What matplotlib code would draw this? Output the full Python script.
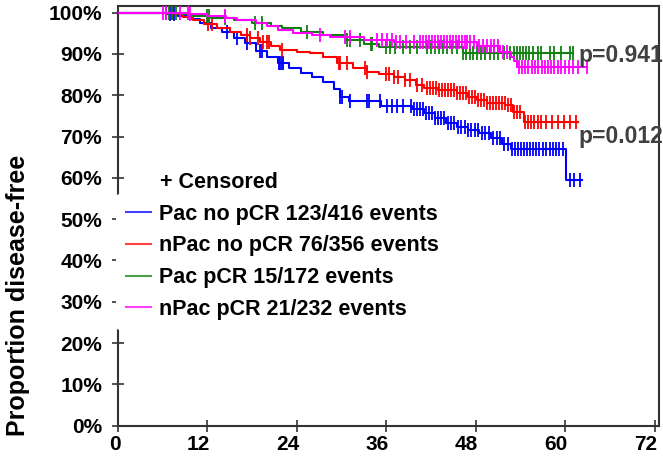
import numpy as np
import matplotlib
matplotlib.use("Agg")
import matplotlib.pyplot as plt
from matplotlib.lines import Line2D
import matplotlib.transforms as mtransforms

plt.rcParams['font.family'] = ['Liberation Sans', 'DejaVu Sans']
plt.rcParams['font.weight'] = 'bold'

# ---- data (months, % disease-free) ----
labels = ["Pac no pCR 123/416 events", "nPac no pCR 76/356 events",
          "Pac pCR 15/172 events", "nPac pCR 21/232 events"]
colors = ["#0000ff", "#ff0000", "#108010", "#ff00ff"]

blue_t = [0, 6.5, 8, 9.5, 11, 12.5, 14, 15.5, 17, 18.5, 20, 21.5, 23, 24.5, 26, 27.5, 29, 29.8,
          31, 35.3, 39.5, 41, 42.5, 44, 45.5, 47, 48.5, 50, 51.5, 52.7, 60.1]
blue_s = [100, 99.6, 99.2, 98.4, 97.5, 96.3, 95.2, 93.8, 92.6, 90.8, 89.3, 87.8, 86.6, 85.3, 84.3,
          83.3, 81.6, 79.6, 78.6, 77.3, 76.6, 75.8, 74.5, 73.2, 72.3, 71.5, 70.8, 69.7, 68.3, 67.0, 59.4]
blue_end = 62.3
blue_c = [7.0, 7.5, 14.6, 16.0, 17.3, 19.0, 19.3, 21.6, 21.8, 22.0, 22.2, 29.8, 30.1, 31.2, 33.4,
          33.7, 35.2, 36.1, 36.8, 37.5, 38.3, 39.3, 39.7, 40.1, 40.5, 40.9, 41.3, 41.7, 42.1, 42.6,
          43.0, 43.4, 43.8, 44.3, 44.7, 45.1, 45.6, 46.0, 46.5, 47.0, 47.4, 47.9, 48.3, 48.8, 49.3,
          49.8, 50.3, 50.8, 51.3, 51.8, 52.3, 52.9, 53.3, 53.7, 54.1, 54.5, 54.9, 55.3, 55.7, 56.1,
          56.5, 57.0, 57.5, 58.0, 58.4, 58.8, 59.2, 59.7, 60.6, 61.2, 62.0]

red_t = [0, 7.5, 8.7, 10, 11.5, 13.3, 15, 16.5, 17.7, 19, 20.5, 21.8, 24, 25.8, 27.5, 29.4, 31.5,
         33.4, 35, 37, 38.5, 40, 41, 43, 45.5, 47, 48.2, 49.5, 52, 53, 54.5]
red_s = [100, 99.6, 99.0, 98.2, 97.2, 96.3, 95.3, 94.5, 93.9, 93.0, 91.8, 91.0, 90.5, 90.2, 89.3,
         87.8, 86.5, 85.6, 85.2, 84.4, 83.6, 82.5, 81.8, 81.2, 80.5, 79.6, 78.9, 78.2, 77.7, 76.0, 73.5]
red_end = 61.7
red_c = [7.2, 12.1, 12.6, 17.3, 17.7, 18.8, 19.5, 20.0, 20.2, 22.0, 29.6, 29.8, 30.7, 33.2, 33.4,
         35.9, 36.4, 37.0, 37.6, 38.5, 39.2, 40.1, 40.8, 41.5, 41.9, 42.3, 42.7, 43.1, 43.5, 43.9,
         44.3, 44.7, 45.1, 45.5, 45.9, 46.3, 46.7, 47.1, 47.5, 47.9, 48.3, 48.7, 49.1, 49.5, 49.9,
         50.3, 50.7, 51.1, 51.5, 51.9, 52.3, 52.7, 53.1, 53.5, 54.0, 54.6, 55.0, 55.4, 55.8, 56.3,
         56.8, 57.5, 58.2, 59.0, 59.8, 60.6, 61.4]

green_t = [0, 8.5, 9.7, 12.5, 15.5, 18, 20.5, 22, 24.5, 27.5, 30.5, 33, 35, 46.3]
green_s = [100, 99.6, 99.2, 98.7, 98.2, 97.5, 96.8, 96.3, 95.3, 94.6, 93.4, 92.5, 91.7, 90.3]
green_end = 61.0
green_c = [6.5, 6.9, 7.3, 7.8, 12.0, 12.2, 14.4, 18.4, 19.3, 25.4, 30.7, 31.2, 32.5, 33.9, 34.1,
           35.9, 36.5, 37.2, 38.3, 39.2, 40.1, 41.5, 42.0, 42.6, 43.1, 43.6, 44.2, 44.8, 45.5, 46.3,
           46.7, 47.2, 47.7, 48.2, 48.7, 49.3, 49.9, 50.5, 51.0, 51.8, 52.6, 53.1, 53.5, 53.9, 54.3,
           54.7, 55.2, 55.7, 56.3, 56.8, 58.0, 58.5, 59.4, 60.7, 61.1]

mag_t = [0, 9.5, 12, 14.5, 16, 18.5, 20, 21.5, 23.5, 26, 28.5, 33, 37, 48.2, 51.3, 52.7, 53.1, 53.6]
mag_s = [100, 99.7, 99.2, 98.7, 98.2, 97.5, 96.8, 95.8, 95.0, 94.6, 94.0, 93.4, 92.9, 91.8, 90.5,
         89.3, 88.3, 86.9]
mag_end = 63.0
mag_c = [6.1, 6.4, 8.3, 9.4, 9.7, 14.4, 27.1, 30.5, 31.1, 34.8, 35.4, 36.1, 36.8, 37.3, 37.8,
         38.6, 39.7, 40.5, 40.9, 41.3, 41.7, 42.1, 42.5, 42.9, 43.3, 43.7, 44.1, 44.5, 44.9, 45.3,
         45.7, 46.1, 46.5, 46.9, 47.3, 47.8, 48.4, 49.0, 49.5, 50.0, 50.5, 51.0, 51.6, 52.2, 53.8,
         54.2, 54.6, 55.0, 55.5, 56.0, 56.4, 56.9, 57.3, 57.7, 58.1, 58.5, 59.0, 59.5, 60.0, 60.5,
         61.1, 61.7, 63.0]

x_ticks = [0, 12, 24, 36, 48, 60, 72]
y_ticks = [0, 10, 20, 30, 40, 50, 60, 70, 80, 90, 100]
p_texts = ["p=0.941", "p=0.012"]
p_pos = [(61.8, 89.6), (61.8, 69.9)]

groups = [(blue_t, blue_s, blue_end, blue_c), (red_t, red_s, red_end, red_c),
          (green_t, green_s, green_end, green_c), (mag_t, mag_s, mag_end, mag_c)]

fig = plt.figure(figsize=(6.63, 4.73), dpi=100)
ax = fig.add_axes([118 / 663, 1 - 425.7 / 473, (659 - 118) / 663, (425.7 - 6) / 473])

for i in range(4):
    t, s, end, c = groups[i]
    xs = list(t) + [end]
    ys = list(s) + [s[-1]]
    ax.step(xs, ys, where='post', color=colors[i], lw=1.5, zorder=2 + i)
    ta = np.array(t)
    sa = np.array(s)
    idx = np.searchsorted(ta, np.array(c), side='right') - 1
    ax.plot(c, sa[idx], linestyle='none', marker='|', markersize=10, mew=1.3,
            color=colors[i], zorder=2 + i)

ax.set_xlim(0, 72.6)
ax.set_ylim(0, 101.6)
ax.set_xticks(x_ticks)
ax.set_xticklabels([str(v) for v in x_ticks])
ax.set_yticks(y_ticks)
ax.set_yticklabels([f"{v}%" for v in y_ticks])
ax.tick_params(axis='both', direction='inout', length=9, width=1.2, color='#333333',
               labelsize=15, labelcolor='black')
ax.tick_params(axis='x', pad=2)
ax.tick_params(axis='y', pad=7)
for lab in ax.get_xticklabels() + ax.get_yticklabels():
    lab.set_fontweight('bold')
# x tick labels sit slightly left of their ticks in the reference
for v, lab in zip(x_ticks, ax.get_xticklabels()):
    dx = -3 if v < 10 else -9
    lab.set_transform(lab.get_transform() +
                      mtransforms.ScaledTranslation(dx / 100, 0, fig.dpi_scale_trans))
for sp in ax.spines.values():
    sp.set_color('#333333')
    sp.set_linewidth(1.5)

fig.text(18 / 663, 1 - 295 / 473, "Proportion disease-free", rotation=90, ha='center',
         va='center', fontsize=18, fontweight='bold')

for txt, (px, py) in zip(p_texts, p_pos):
    ax.text(px, py, txt, ha='left', va='center', fontsize=16.5, fontweight='bold',
            color='#404040', clip_on=False, zorder=10)

fig.text(160 / 663, 1 - 183 / 473, "+ Censored", ha='left', va='center', fontsize=15.5,
         fontweight='bold')

handles = [Line2D([], [], color=col, lw=1.5, alpha=0.75) for col in colors]
leg = ax.legend(handles, labels, loc='upper left', bbox_to_anchor=(-0.004, 0.552),
                frameon=True, facecolor='white', edgecolor='none', framealpha=1,
                fontsize=15.5, handlelength=1.2, handletextpad=0.35, labelspacing=0.5,
                borderpad=0.45, borderaxespad=0)
for tx in leg.get_texts():
    tx.set_fontweight('bold')
leg.set_zorder(20)

fig.savefig("out.png", dpi=100)
